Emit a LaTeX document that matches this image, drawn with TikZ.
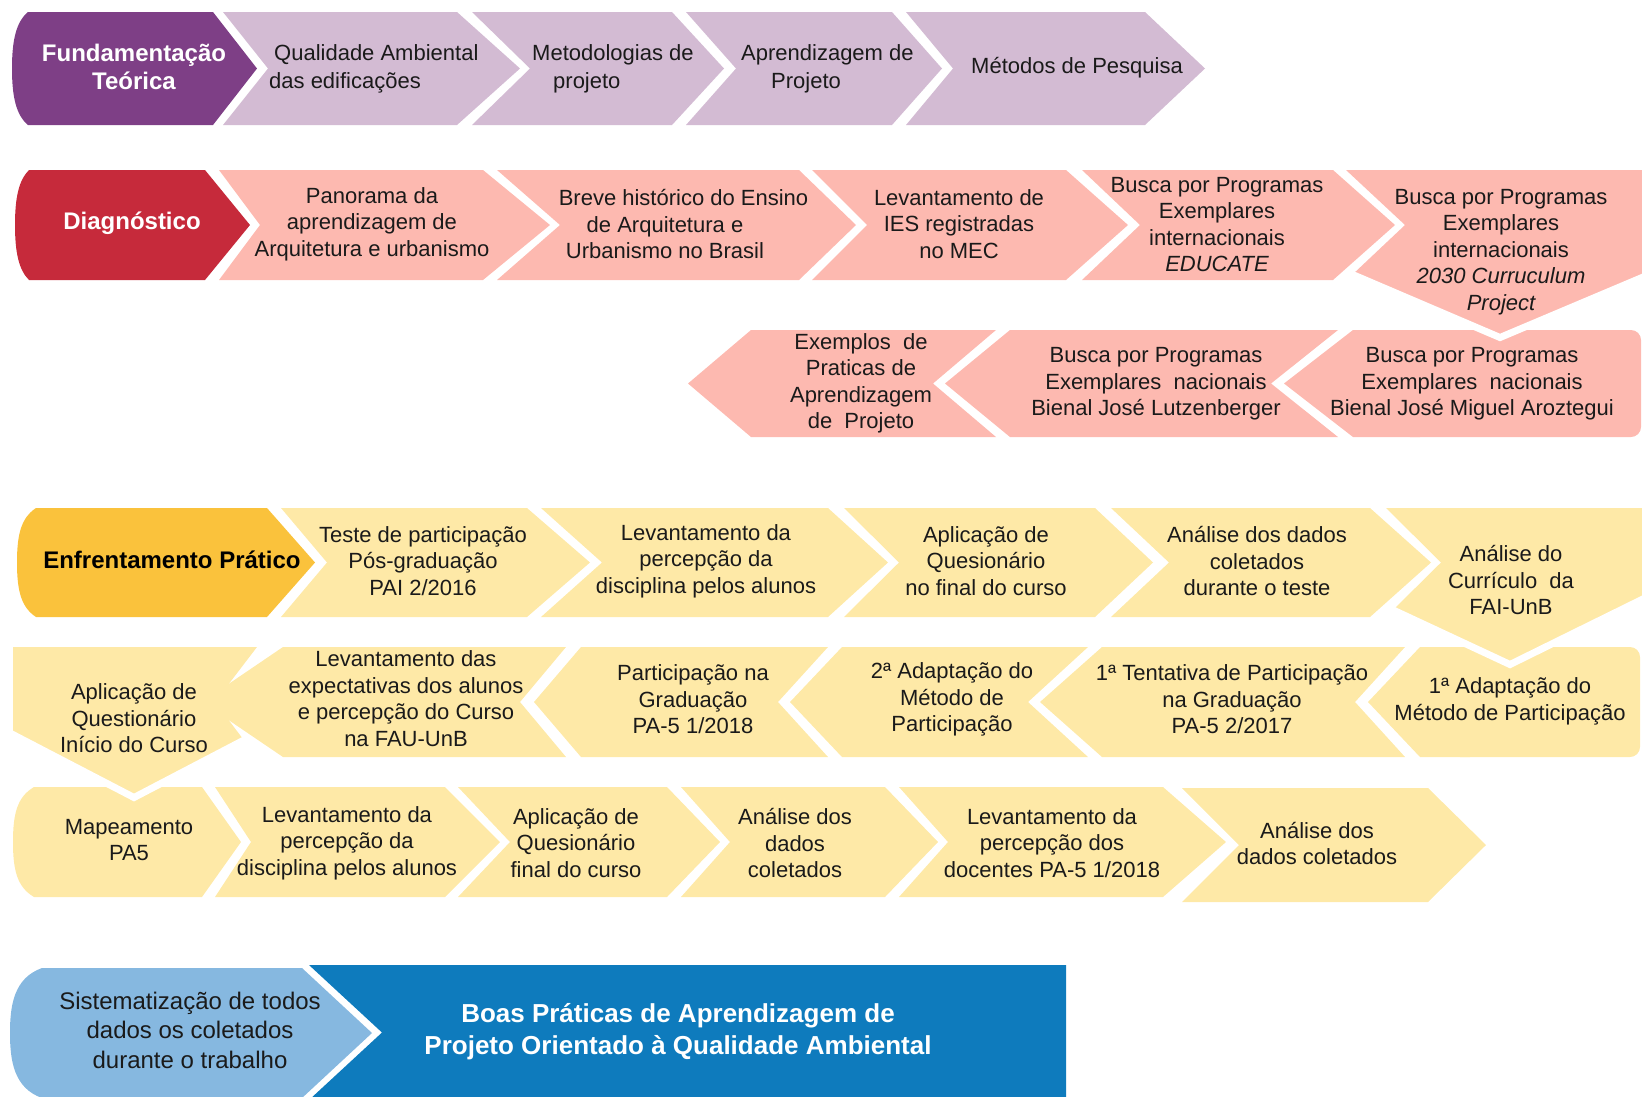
\documentclass[tikz,border=0pt]{standalone}
\usepackage{fontspec}
\setmainfont{Liberation Sans}

\definecolor{purD}{HTML}{7E3F86}
\definecolor{purL}{HTML}{D3BBD3}
\definecolor{redD}{HTML}{C62A3B}
\definecolor{pinkL}{HTML}{FDB9B0}
\definecolor{yelD}{HTML}{FAC23C}
\definecolor{yelL}{HTML}{FEE9A7}
\definecolor{bluL}{HTML}{86B8E0}
\definecolor{bluD}{HTML}{0E7BBD}
\definecolor{ink}{HTML}{1A1A1A}

% right-pointing chevron: colour, top, bottom, left x, notch x, right x, tip x
\newcommand\arrR[7]{\fill[#1] (#4,#2) -- (#6,#2) -- (#7,{(#2+#3)/2}) -- (#6,#3) -- (#4,#3) -- (#5,{(#2+#3)/2}) -- cycle;}
% left-pointing chevron: colour, top, bottom, tip x, left x, right x, notch x
\newcommand\arrL[7]{\fill[#1] (#5,#2) -- (#6,#2) -- (#7,{(#2+#3)/2}) -- (#6,#3) -- (#5,#3) -- (#4,{(#2+#3)/2}) -- cycle;}
% header arrow with a rounded left side: colour, top, bottom, corner x, bulge x, right x, tip x
\newcommand\headR[7]{\fill[#1] (#4,#2) -- (#6,#2) -- (#7,{(#2+#3)/2}) -- (#6,#3) -- (#4,#3)
  .. controls ({#5+4},{#3-10}) and (#5,{(#2+#3)/2+28}) .. (#5,{(#2+#3)/2})
  .. controls (#5,{(#2+#3)/2-28}) and ({#5+4},{#2+10}) .. (#4,#2) -- cycle;}

\begin{document}
\begin{tikzpicture}[x=1pt,y=-1pt,
  lbl/.style={align=center, text=ink, inner sep=0pt, font=\fontsize{22}{26.5}\selectfont},
  lblw/.style={align=left, text=ink, inner sep=0pt, anchor=west, font=\fontsize{22}{27.5}\selectfont},
  hdr/.style={align=center, inner sep=0pt, font=\fontsize{24}{28}\selectfont\bfseries},
  cut/.style={white, line width=7pt, line join=miter}
]
\useasboundingbox (0,0) rectangle (1642,1096);
\clip (0,0) rectangle (1642,1096);

% ---------- Fundamentação Teórica ----------
\headR{purD}{12}{125}{28}{12}{213}{257}
\arrR{purL}{12}{125}{223}{268}{457}{520}
\arrR{purL}{12}{125}{472}{530}{672}{724}
\arrR{purL}{12}{125}{686}{736}{892}{942}
\arrR{purL}{12}{125}{906}{953}{1145}{1205}

\node[hdr, text=white] (fund) at (134,67) {Fundamentação\\Teórica};
\node[lblw] (qual) at (269,69) {\hspace*{5pt}Qualidade Ambiental\\das edificações};
\node[lblw] (meto) at (532,69) {Metodologias de\\\hspace*{21pt}projeto};
\node[lblw] (apre) at (741,69) {Aprendizagem de\\\hspace*{30pt}Projeto};
\node[lbl] (mpes) at (1077,68) {Métodos de Pesquisa};

% ---------- Diagnóstico ----------
\headR{redD}{170}{280}{29}{15}{205}{250}
\arrR{pinkL}{170}{280}{219}{260}{483}{550}
\arrR{pinkL}{170}{280}{497}{560}{799}{856}
\arrR{pinkL}{170}{280}{812}{867}{1066}{1128}
\arrR{pinkL}{170}{280}{1082}{1140}{1333}{1395}

% second line of the diagnosis, running right to left
\fill[pinkL, rounded corners=10pt] (1400,330) rectangle (1641,437);
\fill[pinkL] (1284,383.5) -- (1353,330) -- (1420,330) -- (1420,437) -- (1353,437) -- cycle;
\arrL{pinkL}{330}{437}{945}{1010}{1338}{1271}
\arrL{pinkL}{330}{437}{688}{751}{996}{933}

% turning arrow pointing down
\fill[pinkL] (1346,170) -- (1645,170) -- (1645,276) -- (1500,334) -- (1352,275) -- (1405,225) -- cycle;
\draw[cut] (1648,275) -- (1500,337.5) -- (1349,273);

\node[hdr, text=white] (diag) at (132,223) {Diagnóstico};
\node[lbl] (pano) at (372,224) {Panorama da\\aprendizagem de\\Arquitetura e urbanismo};
\node[lbl] (brev) at (665,224) {\hspace*{37pt}Breve histórico do Ensino\\de Arquitetura e\\Urbanismo no Brasil};
\node[lbl] (ies) at (959,224) {Levantamento de\\IES registradas\\no MEC};
\node[lbl] (educ) at (1217,224.5) {Busca por Programas\\Exemplares\\internacionais\\{\itshape EDUCATE}};
\node[lbl] (curr) at (1501,252) {Busca por Programas\\Exemplares\\internacionais\\{\itshape 2030 Curruculum}\\{\itshape Project}};
\node[lbl] (aroz) at (1472,384) {Busca por Programas\\Exemplares~~nacionais\\Bienal José Miguel Aroztegui};
\node[lbl] (lutz) at (1156,384) {Busca por Programas\\Exemplares~~nacionais\\Bienal José Lutzenberger};
\node[lbl] (exem) at (861,383.5) {Exemplos~~de\\Praticas de\\Aprendizagem\\de~~Projeto};

% ---------- Enfrentamento Prático ----------
\headR{yelD}{508}{617}{36}{17}{267}{315}
\arrR{yelL}{508}{617}{281}{327}{527}{590}
\arrR{yelL}{508}{617}{541}{602}{828}{888}
\arrR{yelL}{508}{617}{844}{899}{1095}{1153}
\arrR{yelL}{508}{617}{1111}{1169}{1370}{1431}

% third line, left to right
\headR{yelL}{787}{897}{34}{13}{202}{241}
\arrR{yelL}{787}{897}{215}{251}{445}{500}
\arrR{yelL}{787}{897}{458}{510}{667}{720}
\arrR{yelL}{787}{897}{681}{730}{885}{938}
\arrR{yelL}{787}{897}{899}{948}{1163}{1226}
\arrR{yelL}{788}{902}{1182}{1239}{1428}{1486}

% second line, right to left
\fill[yelL, rounded corners=10pt] (1450,647) rectangle (1640,757);
\fill[yelL] (1368,702) -- (1420,647) -- (1470,647) -- (1470,757) -- (1420,757) -- cycle;
\arrL{yelL}{647}{757}{1040}{1102}{1405}{1355}
\arrL{yelL}{647}{757}{790}{842}{1088}{1028}
\arrL{yelL}{647}{757}{534}{581}{828}{778}
\arrL{yelL}{647}{757}{202}{283}{566}{520}

% turning arrows pointing down
\fill[yelL] (1386,508) -- (1645,508) -- (1645,598) -- (1510,661) -- (1394,609) -- (1441,562.5) -- cycle;
\draw[cut] (1648,596.5) -- (1510,664.5) -- (1391,609);
\fill[yelL] (13,647) -- (257,647) -- (215,702) -- (243,739) -- (134,794) -- (13,734) -- cycle;
\draw[cut] (8,732) -- (134,797.5) -- (246,739);

\node[hdr, text=black] (enfr) at (172,560) {Enfrentamento Prático};
\node[lbl] (test) at (423,561) {Teste de participação\\Pós-graduação\\PAI 2/2016};
\node[lbl] (lev1) at (706,561) {Levantamento da\\percepção da\\disciplina pelos alunos};
\node[lbl] (apl1) at (986,561) {Aplicação de\\Quesionário\\no final do curso};
\node[lbl] (ana1) at (1257,561) {Análise dos dados\\coletados\\durante o teste};
\node[lbl] (curf) at (1511,580) {Análise do\\Currículo~~da\\FAI-UnB};

\node[lbl] (ad1) at (1510,701.5) {1ª Adaptação do\\Método de Participação};
\node[lbl] (ten1) at (1232,699.5) {1ª Tentativa de Participação\\na Graduação\\PA-5 2/2017};
\node[lbl] (ad2) at (952,699.5) {2ª Adaptação do\\Método de\\Participação};
\node[lbl] (part) at (693,699.5) {Participação na\\Graduação\\PA-5 1/2018};
\node[lbl] (expe) at (406,698.5) {Levantamento das\\expectativas dos alunos\\e percepção do Curso\\na FAU-UnB};
\node[lbl] (apli) at (134,718.5) {Aplicação de\\Questionário\\Início do Curso};

\node[lbl] (mape) at (129,840) {Mapeamento\\PA5};
\node[lbl] (lev2) at (347,843) {Levantamento da\\percepção da\\disciplina pelos alunos};
\node[lbl] (apl2) at (576,843) {Aplicação de\\Quesionário\\final do curso};
\node[lbl] (ana2) at (795,843) {Análise dos\\dados\\coletados};
\node[lbl] (doce) at (1052,843) {Levantamento da\\percepção dos\\docentes PA-5 1/2018};
\node[lbl] (ana3) at (1317,843.5) {Análise dos\\dados coletados};

% ---------- Sistematização ----------
\headR{bluL}{968}{1098}{42}{10}{302}{372}
\fill[bluD] (309,965) -- (1066,965) -- (1066,1100) -- (309,1100) -- (382,1032.5) -- cycle;

\node[lbl, font=\fontsize{24}{29.5}\selectfont] (sist) at (190,1030) {Sistematização de todos\\dados os coletados\\durante o trabalho};
\node[hdr, text=white, font=\fontsize{26}{32}\selectfont\bfseries] (boas) at (678,1032) {Boas Práticas de Aprendizagem de\\Projeto Orientado à Qualidade Ambiental};
\end{tikzpicture}
\end{document}
